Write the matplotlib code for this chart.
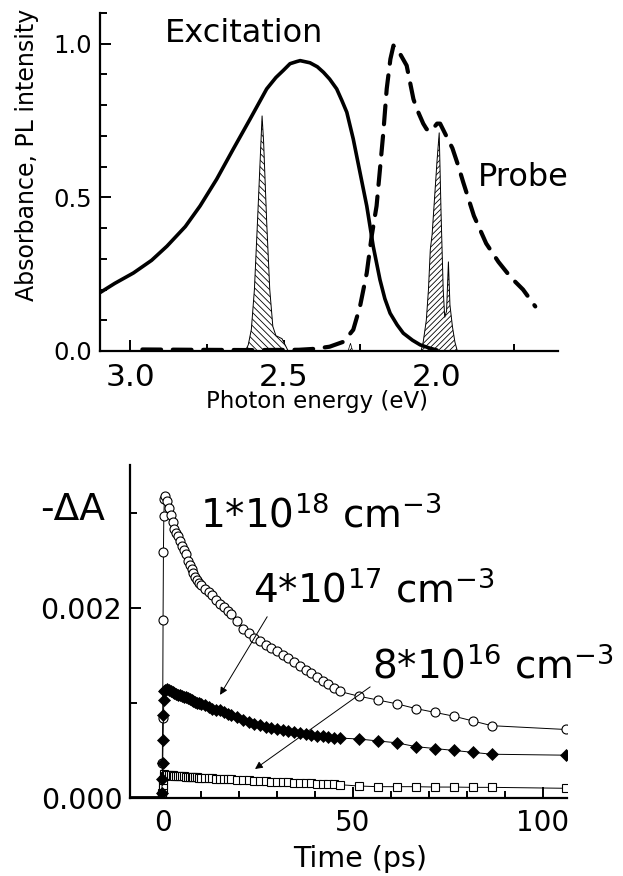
import matplotlib
matplotlib.use("Agg")
import matplotlib.pyplot as plt
from matplotlib.ticker import MultipleLocator, FormatStrFormatter

plt.rcParams['font.family'] = ['DejaVu Sans']
plt.rcParams['mathtext.default'] = 'regular'
plt.rcParams['hatch.linewidth'] = 0.6

# ---------------- top panel data ----------------
exc_E = [3.098, 3.05, 2.989, 2.93, 2.880, 2.82, 2.772, 2.718, 2.664, 2.609, 2.555, 2.525,
         2.501, 2.479, 2.457, 2.446, 2.414, 2.39, 2.370, 2.35, 2.327, 2.31, 2.294, 2.273,
         2.251, 2.229, 2.208, 2.186, 2.17, 2.153, 2.13, 2.110, 2.08, 2.055, 2.023, 2.00]
exc_A = [0.19, 0.22, 0.254, 0.295, 0.341, 0.405, 0.472, 0.559, 0.657, 0.755, 0.853, 0.89,
         0.913, 0.935, 0.942, 0.945, 0.938, 0.925, 0.907, 0.885, 0.853, 0.815, 0.777, 0.690,
         0.581, 0.472, 0.341, 0.232, 0.17, 0.123, 0.085, 0.058, 0.035, 0.020, 0.009, 0.003]

probe_E = [2.96, 2.80, 2.60, 2.45, 2.40, 2.35, 2.305, 2.273, 2.251, 2.229, 2.213, 2.197,
           2.186, 2.175, 2.164, 2.152, 2.142, 2.125, 2.099, 2.077, 2.066, 2.045, 2.034, 2.02,
           2.00, 1.99, 1.97, 1.95, 1.93, 1.915, 1.88, 1.84, 1.80, 1.76, 1.72, 1.68]
probe_A = [0.005, 0.004, 0.003, 0.004, 0.007, 0.014, 0.030, 0.069, 0.145, 0.254, 0.374, 0.472,
           0.591, 0.711, 0.853, 0.95, 0.994, 0.975, 0.929, 0.820, 0.788, 0.74, 0.722, 0.715,
           0.74, 0.74, 0.70, 0.66, 0.60, 0.55, 0.44, 0.35, 0.29, 0.24, 0.20, 0.145]

pl1_E = [2.625, 2.615, 2.605, 2.595, 2.585, 2.575, 2.570, 2.565, 2.555, 2.545, 2.535, 2.525,
         2.515, 2.505, 2.495, 2.485]
pl1_A = [0.0, 0.02, 0.07, 0.20, 0.42, 0.65, 0.765, 0.68, 0.42, 0.20, 0.08, 0.05,
         0.045, 0.04, 0.02, 0.0]

pl2_E = [2.052, 2.045, 2.035, 2.028, 2.022, 2.016, 2.008, 2.000, 1.993, 1.987, 1.980, 1.975,
         1.969, 1.963, 1.958, 1.950, 1.942, 1.934]
pl2_A = [0.0, 0.03, 0.10, 0.20, 0.33, 0.38, 0.50, 0.62, 0.71, 0.45, 0.20, 0.11,
         0.13, 0.29, 0.15, 0.08, 0.03, 0.0]

pl3_E = [2.290, 2.282, 2.275]
pl3_A = [0.0, 0.025, 0.0]

# ---------------- bottom panel data ----------------
t_ps = [-8.7, -6.0, -3.0, -1.0, -0.5,
        -0.35, -0.2, -0.1, 0.0, 0.1, 0.2, 0.35,
        0.6, 1.0, 1.5, 2.0, 2.5, 3.0, 3.5, 4.0, 4.5, 5.0, 5.5, 6.0, 6.5, 7.0, 7.5, 8.0, 8.5,
        9.0, 9.5, 10.0,
        11.0, 12.0, 13.0, 14.0, 15.0, 16.0, 17.0, 18.0,
        19.5, 21.0, 22.5, 24.0, 25.5, 27.0, 28.5, 30.0, 31.5, 33.0, 34.5, 36.0, 37.5, 39.0,
        40.5, 42.0, 43.5, 45.0, 46.5,
        51.5, 56.5, 61.5, 66.5, 71.5, 76.5, 81.5, 86.5, 106.0]

dA_1e18 = [0, 0, 0, 0, 0.00001,
           0.00005, 0.00037, 0.00084, 0.00187, 0.00259, 0.00296, 0.00314,
           0.00317, 0.00312, 0.00305, 0.00297, 0.00290, 0.00283, 0.00279, 0.00275, 0.00270,
           0.00265, 0.00261, 0.00256, 0.00249, 0.00245, 0.00241, 0.00237, 0.00232, 0.00229,
           0.00226, 0.00224,
           0.00220, 0.00216, 0.00213, 0.00208, 0.00204, 0.00201, 0.00197, 0.00193,
           0.00186, 0.00178, 0.00173, 0.00168, 0.00165, 0.00161, 0.00158, 0.00154, 0.00150,
           0.00147, 0.00143, 0.00139, 0.00135, 0.00131, 0.00127, 0.00123, 0.00120, 0.00116,
           0.00112,
           0.00107, 0.00103, 0.00099, 0.00094, 0.00090, 0.00086, 0.00081, 0.00076, 0.00072]

dA_4e17 = [0, 0, 0, 0, 0.00001,
           0.00005, 0.00020, 0.00037, 0.00061, 0.00087, 0.00103, 0.00112,
           0.00114, 0.00115, 0.00114, 0.00112, 0.00111, 0.00110, 0.00109, 0.00108, 0.00108,
           0.00107, 0.00106, 0.00106, 0.00105, 0.00104, 0.00103, 0.00102, 0.00101, 0.00100,
           0.00100, 0.00099,
           0.00098, 0.00096, 0.00094, 0.00093, 0.00092, 0.00090, 0.00088, 0.00087,
           0.00085, 0.00082, 0.00080, 0.00078, 0.00077, 0.00075, 0.00074, 0.00073, 0.00071,
           0.00070, 0.00069, 0.00068, 0.00067, 0.00066, 0.00065, 0.00065, 0.00064, 0.00063,
           0.00063,
           0.00062, 0.00060, 0.00058, 0.00054, 0.00052, 0.00050, 0.00048, 0.00046, 0.00045]

dA_8e16 = [0, 0, 0, 0, 0.00001,
           0.00002, 0.00005, 0.00009, 0.00014, 0.00019, 0.00023, 0.00025,
           0.00023, 0.00024, 0.00024, 0.00024, 0.00024, 0.00023, 0.00023, 0.00023, 0.00023,
           0.00023, 0.00023, 0.00022, 0.00022, 0.00022, 0.00022, 0.00022, 0.00022, 0.00022,
           0.00021, 0.00021,
           0.00021, 0.00021, 0.00021, 0.00020, 0.00020, 0.00020, 0.00020, 0.00020,
           0.00019, 0.00019, 0.00019, 0.00018, 0.00018, 0.00018, 0.00017, 0.00017, 0.00017,
           0.00017, 0.00016, 0.00016, 0.00016, 0.00016, 0.00015, 0.00015, 0.00015, 0.00015,
           0.00014,
           0.000126, 0.000119, 0.000119, 0.000119, 0.000115, 0.000115, 0.000112, 0.000112,
           0.000102]

n_base = 5

W, H = 623, 876
fig = plt.figure(figsize=(W / 100, H / 100), dpi=100)


def fax(l, r, b, t):
    return [l / W, 1 - b / H, (r - l) / W, (b - t) / H]


def style(ax):
    for s in ('top', 'right'):
        ax.spines[s].set_visible(False)
    for s in ('left', 'bottom'):
        ax.spines[s].set_linewidth(1.6)
    ax.tick_params(which='both', direction='in', width=1.4, top=False, right=False)
    ax.tick_params(which='major', length=8)
    ax.tick_params(which='minor', length=5)


# ---------------- top panel ----------------
ax1 = fig.add_axes(fax(100, 558, 351, 13))
style(ax1)
ax1.fill_between(pl1_E, pl1_A, 0, facecolor='white', edgecolor='black', hatch='\\\\\\\\\\',
                 linewidth=0.7, zorder=2)
ax1.fill_between(pl2_E, pl2_A, 0, facecolor='white', edgecolor='black', hatch='//////',
                 linewidth=0.7, zorder=2)
ax1.fill_between(pl3_E, pl3_A, 0, facecolor='white', edgecolor='black', hatch='//////',
                 linewidth=0.5, zorder=2)
ax1.plot(exc_E, exc_A, color='black', lw=2.6, zorder=3, solid_capstyle='round',
         solid_joinstyle='round')
ax1.plot(probe_E, probe_A, color='black', lw=3.0, zorder=3, dashes=(4.5, 2.8),
         dash_capstyle='round', dash_joinstyle='round')
ax1.set_xlim(3.098, 1.606)
ax1.set_ylim(0, 1.1)
ax1.xaxis.set_major_locator(MultipleLocator(0.5))
ax1.xaxis.set_minor_locator(MultipleLocator(0.25))
ax1.yaxis.set_major_locator(MultipleLocator(0.5))
ax1.yaxis.set_minor_locator(MultipleLocator(0.1))
ax1.xaxis.set_major_formatter(FormatStrFormatter('%.1f'))
ax1.yaxis.set_major_formatter(FormatStrFormatter('%.1f'))
ax1.tick_params(axis='x', labelsize=22.5, pad=9)
ax1.tick_params(axis='y', labelsize=17.5, pad=5.5)
ax1.text(2.886, 1.006, 'Excitation', fontsize=23, ha='left', va='baseline')
ax1.text(1.867, 0.536, 'Probe', fontsize=23, ha='left', va='baseline')
fig.text(317 / W, 1 - 408 / H, 'Photon energy (eV)', fontsize=16.5, ha='center', va='baseline')
fig.text(27 / W, 1 - 155 / H, 'Absorbance, PL intensity', fontsize=17, rotation=90,
         ha='center', va='center')

# ---------------- bottom panel ----------------
ax2 = fig.add_axes(fax(130, 567, 798, 465))
style(ax2)
series = [
    (dA_1e18, dict(marker='o', ms=6.5, mfc='white', mec='black', mew=0.8)),
    (dA_8e16, dict(marker='s', ms=6.3, mfc='white', mec='black', mew=0.8)),
    (dA_4e17, dict(marker='D', ms=6.4, mfc='black', mec='black', mew=0.5)),
]
for vals, mk in series:
    ax2.plot(t_ps[:n_base], vals[:n_base], color='black', lw=2.2, solid_capstyle='butt')
    ax2.plot(t_ps[n_base - 1:], vals[n_base - 1:], color='black', lw=0.7,
             markevery=slice(1, None), **mk)
ax2.set_xlim(-8.7, 106.3)
ax2.set_ylim(0, 0.0035)
ax2.xaxis.set_major_locator(MultipleLocator(50))
ax2.xaxis.set_minor_locator(MultipleLocator(10))
ax2.yaxis.set_major_locator(MultipleLocator(0.002))
ax2.yaxis.set_minor_locator(MultipleLocator(0.001))
ax2.yaxis.set_major_formatter(FormatStrFormatter('%.3f'))
ax2.tick_params(axis='x', labelsize=20, pad=8)
ax2.tick_params(axis='y', labelsize=20.5, pad=5.5)

ax2.text(9.7, 0.00284, '1*10$^{18}$ cm$^{-3}$', fontsize=28, ha='left', va='baseline')
ax2.text(23.7, 0.00206, '4*10$^{17}$ cm$^{-3}$', fontsize=28, ha='left', va='baseline')
ax2.text(55.0, 0.00126, '8*10$^{16}$ cm$^{-3}$', fontsize=28, ha='left', va='baseline')
arrow = dict(arrowstyle='-|>', lw=0.7, color='black', mutation_scale=11,
             shrinkA=0, shrinkB=0)
ax2.annotate('', xy=(15.0, 0.001084), xytext=(27.4, 0.001905), arrowprops=arrow)
ax2.annotate('', xy=(24.2, 0.000305), xytext=(54.5, 0.001168), arrowprops=arrow)

fig.text(40 / W, 1 - 520 / H, '-\u0394A', fontsize=27, ha='left', va='baseline')
fig.text(360 / W, 1 - 867 / H, 'Time (ps)', fontsize=20.5, ha='center', va='baseline')

fig.savefig('out.png', dpi=100)
